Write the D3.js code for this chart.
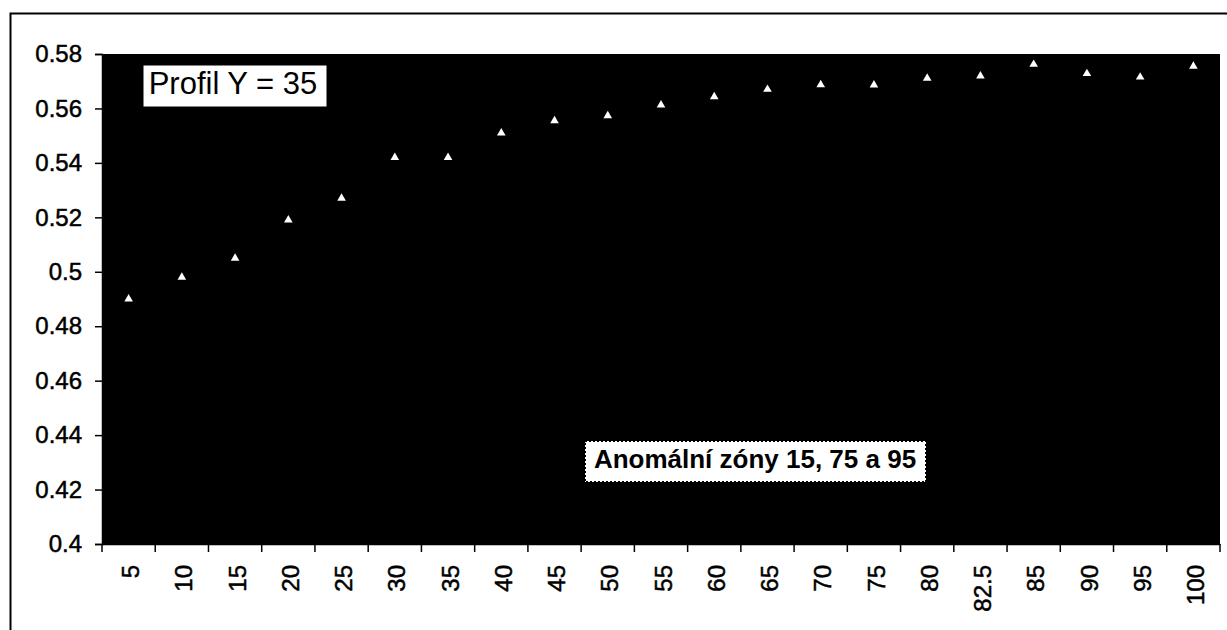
<!DOCTYPE html>
<html><head><meta charset="utf-8">
<script src="https://cdn.jsdelivr.net/npm/d3@7"></script>
<style>
html,body{margin:0;padding:0;background:#fff;}
svg{display:block;font-family:"Liberation Sans",Arial,sans-serif;}
</style></head>
<body>
<svg id="c" width="1227" height="630"></svg>
<script>
const categories = ["5","10","15","20","25","30","35","40","45","50","55","60","65","70","75","80","82.5","85","90","95","100"];
const values = [0.490,0.498,0.505,0.519,0.527,0.542,0.542,0.551,0.5555,0.5573,0.5613,0.5643,0.567,0.5687,0.5686,0.5711,0.5719,0.5762,0.5728,0.5715,0.5755];
const yTicks = [0.4,0.42,0.44,0.46,0.48,0.5,0.52,0.54,0.56,0.58];
const titleLabel = "Profil Y = 35";
const noteLabel = "Anomální zóny 15, 75 a 95";

const svg = d3.select("#c");
const L = 102, R = 1220, T = 54, B = 544;

// outer frame
svg.append("rect").attr("x",10.5).attr("y",13.5).attr("width",1230).attr("height",640)
  .attr("fill","none").attr("stroke","#000").attr("stroke-width",2);

const x = d3.scaleBand().domain(categories).range([L,R]).padding(0);
const y = d3.scaleLinear().domain([0.4,0.58]).range([B,T]);

// plot area
svg.append("rect").attr("x",L).attr("y",T).attr("width",R-L).attr("height",B-T).attr("fill","#000");

// y axis
const ya = svg.append("g").attr("transform",`translate(${L},0)`)
  .call(d3.axisLeft(y).tickValues(yTicks).tickSize(7).tickPadding(13).tickFormat(d=>String(+d.toFixed(2))));
ya.select(".domain").attr("stroke","#000").attr("stroke-width",1.5);
ya.selectAll(".tick line").attr("stroke","#000").attr("stroke-width",1.5);
ya.selectAll(".tick text").attr("font-size",24).attr("fill","#000")
  .attr("stroke","#000").attr("stroke-width",0.5)
  .attr("font-family","Liberation Sans, Arial, sans-serif");

// x axis: labels at band centres, tick marks at band boundaries
const xa = svg.append("g").attr("transform",`translate(0,${B})`)
  .call(d3.axisBottom(x).tickSize(0).tickPadding(0));
xa.select(".domain").attr("stroke","#000").attr("stroke-width",1.5);
xa.selectAll(".tick text")
  .attr("font-size",24).attr("fill","#000").attr("stroke","#000").attr("stroke-width",0.5)
  .attr("font-family","Liberation Sans, Arial, sans-serif")
  .attr("text-anchor","end").attr("transform","rotate(-90)")
  .attr("x",-21).attr("y",2).attr("dy","0.36em");
const bounds = categories.map(c=>x(c)).concat([x(categories[categories.length-1])+x.bandwidth()]);
xa.selectAll("line.bt").data(bounds).join("line").attr("class","bt")
  .attr("x1",d=>d).attr("x2",d=>d).attr("y1",0).attr("y2",8)
  .attr("stroke","#000").attr("stroke-width",1.5);

// markers
svg.append("g").selectAll("path").data(values).join("path")
  .attr("transform",(d,i)=>`translate(${x(categories[i])+x.bandwidth()/2},${y(d)})`)
  .attr("d",d3.symbol(d3.symbolTriangle,32))
  .attr("fill","#fff");

// title box
const tb = svg.append("g");
tb.append("rect").attr("x",143).attr("y",65).attr("width",184).attr("height",42).attr("fill","#fff").attr("stroke","#000").attr("stroke-width",1);
tb.append("text").attr("x",233).attr("y",94).attr("text-anchor","middle").attr("font-size",31).attr("fill","#000").text(titleLabel);

// note box
const nb = svg.append("g");
nb.append("rect").attr("x",585).attr("y",441).attr("width",341).attr("height",41).attr("fill","#fff")
  .attr("stroke","#000").attr("stroke-width",2).attr("stroke-dasharray","2,2");
nb.append("text").attr("x",755).attr("y",468).attr("text-anchor","middle").attr("font-size",26).attr("font-weight","bold")
  .attr("fill","#000").text(noteLabel);
</script>
</body></html>
